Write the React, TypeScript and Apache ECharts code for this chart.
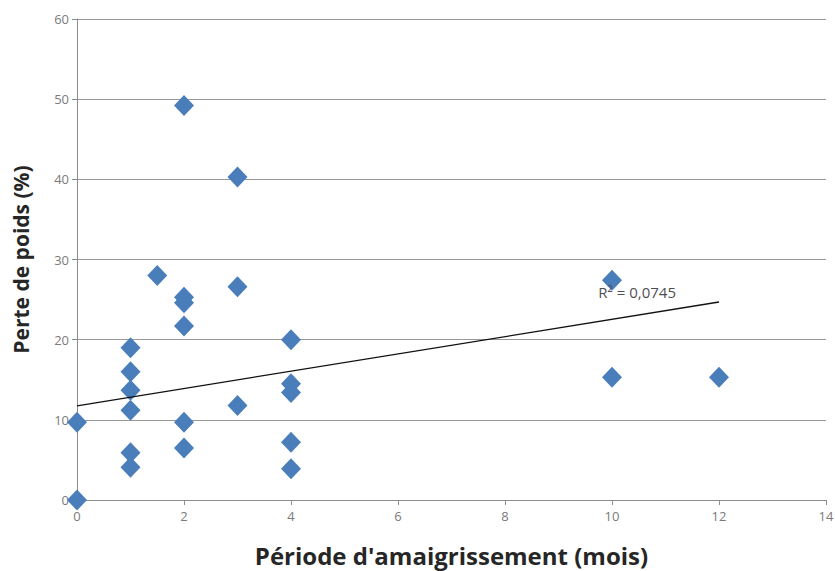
import React, { useEffect, useRef } from "react";
import * as echarts from "echarts";

const xValues = [0, 0, 1, 1, 1, 1, 1, 1, 1.5, 2, 2, 2, 2, 2, 2, 3, 3, 3, 4, 4, 4, 4, 4, 10, 10, 12];
const yValues = [0, 9.7, 19, 16, 13.7, 11.2, 5.9, 4.1, 28, 49.2, 25.3, 24.6, 21.7, 9.7, 6.5, 40.3, 26.6, 11.8, 20, 14.5, 13.4, 7.2, 3.9, 27.4, 15.3, 15.3];
const trendX = [0, 12];
const trendY = [11.75, 24.7];
const r2Label = "R² = 0,0745";
const r2Pos = [10.47, 25.9];
const xTitle = "Période d'amaigrissement (mois)";
const yTitle = "Perte de poids (%)";

export default function App() {
  const ref = useRef<HTMLDivElement>(null);
  useEffect(() => {
    document.body.style.margin = "0";
    if (!ref.current) return;
    const chart = echarts.init(ref.current, null, { renderer: "svg" });
    const points = xValues.map((x, i) => [x, yValues[i]]);
    const trend = trendX.map((x, i) => [x, trendY[i]]);
    chart.setOption({
      animation: false,
      backgroundColor: "#ffffff",
      grid: { left: 77, right: 9, top: 19, bottom: 71, containLabel: false, outerBoundsMode: "none" },
      xAxis: {
        type: "value",
        min: 0,
        max: 14,
        interval: 2,
        name: xTitle,
        nameLocation: "middle",
        nameGap: 43,
        nameTextStyle: { fontFamily: "Open Sans", fontWeight: "bold", fontSize: 24, color: "#262626" },
        axisLine: { show: true, lineStyle: { color: "#8c8c8c", width: 1 } },
        axisTick: { show: true, length: 5, lineStyle: { color: "#8c8c8c" } },
        axisLabel: { fontFamily: "Open Sans", fontSize: 13, color: "#7a7a7a", margin: 9 },
        splitLine: { show: false },
      },
      yAxis: {
        type: "value",
        min: 0,
        max: 60,
        interval: 10,
        name: yTitle,
        nameLocation: "middle",
        nameGap: 46,
        nameTextStyle: { fontFamily: "Open Sans", fontWeight: "bold", fontSize: 21, color: "#262626" },
        axisLine: { show: true, lineStyle: { color: "#8c8c8c", width: 1 } },
        axisTick: { show: true, length: 5, lineStyle: { color: "#8c8c8c" } },
        axisLabel: { fontFamily: "Open Sans", fontSize: 13, color: "#7a7a7a", margin: 8 },
        splitLine: { show: true, lineStyle: { color: "#999999", width: 1 } },
      },
      series: [
        {
          type: "line",
          data: trend,
          showSymbol: false,
          symbol: "none",
          lineStyle: { color: "#111111", width: 1.3 },
          z: 3,
          markPoint: {
            symbol: "circle",
            symbolSize: 1,
            itemStyle: { color: "transparent" },
            label: {
              show: true,
              position: "inside",
              formatter: r2Label,
              fontFamily: "Open Sans",
              fontSize: 15,
              color: "#505050",
            },
            data: [{ coord: r2Pos }],
            z: 10,
          },
        },
        {
          type: "scatter",
          data: points,
          symbol: "diamond",
          symbolSize: [20, 21],
          itemStyle: { color: "#4a7ebb", opacity: 1 },
          z: 2,
        },
      ],
    });
    return () => chart.dispose();
  }, []);
  return <div ref={ref} style={{ width: 835, height: 571 }} />;
}
